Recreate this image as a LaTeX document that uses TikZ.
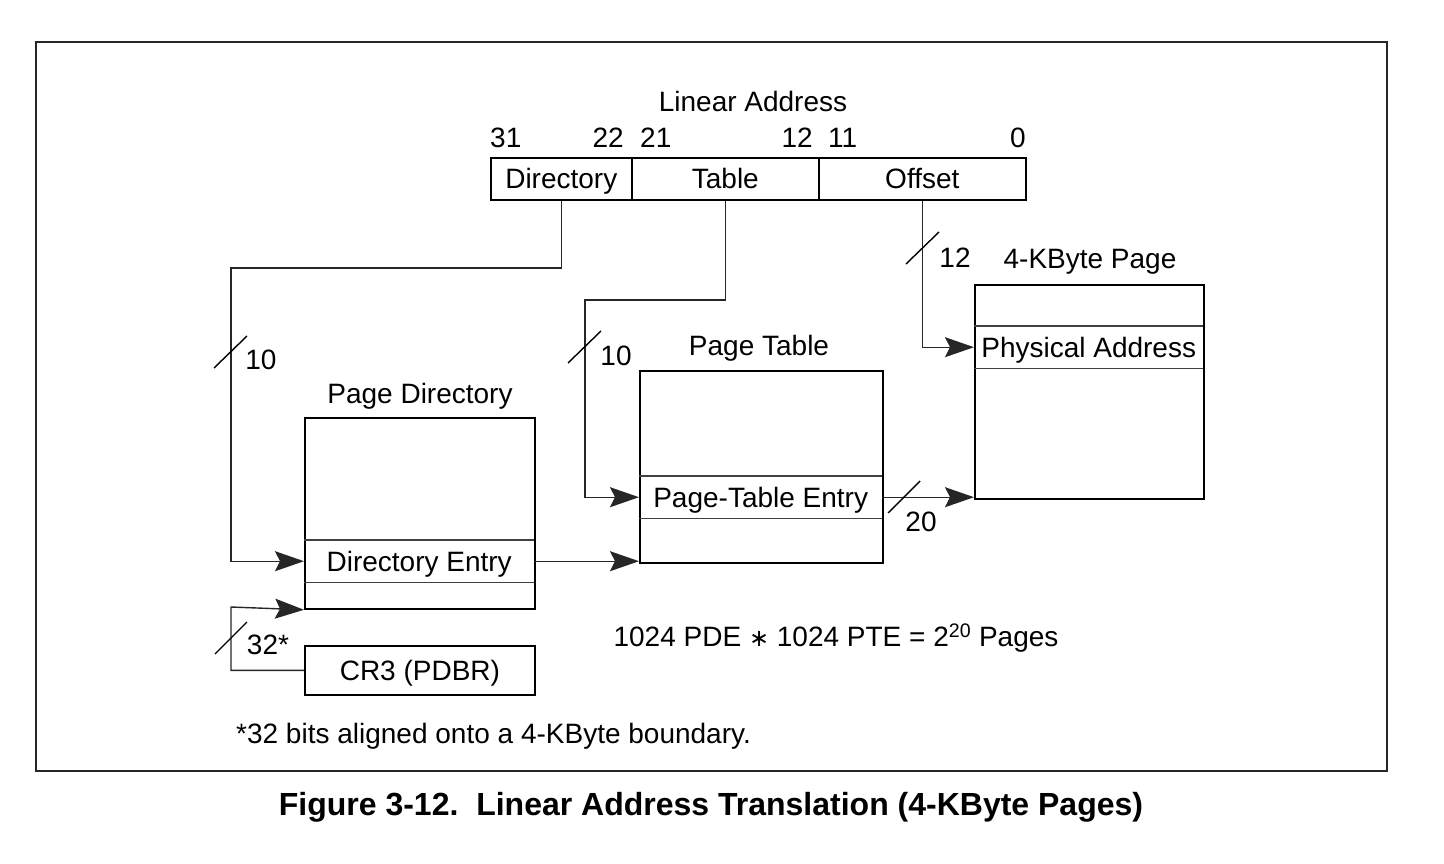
\documentclass[tikz,border=0pt]{standalone}
\usepackage{fontspec}
\setmainfont{Liberation Sans}
\newfontfamily\symfont{DejaVu Sans}
\usetikzlibrary{arrows.meta}

\begin{document}
\begin{tikzpicture}[x=1pt,y=-1pt,
  txt/.style={font=\fontsize{28}{32}\selectfont, inner sep=0pt},
  field/.style={draw, line width=1.6pt, inner sep=0pt, anchor=north west,
    font=\fontsize{28}{32}\selectfont, text height=20pt, text depth=0pt},
  table/.style={draw, line width=1.8pt, inner sep=0pt, anchor=north west},
  row/.style={inner sep=0pt, anchor=north west, minimum height=42pt,
    font=\fontsize{28}{32}\selectfont, text height=20pt, text depth=0pt},
  sep/.style={line width=1.1pt, draw=black!75},
  conn/.style={line width=1.4pt, draw=black!85},
  arr/.style={conn, -{Stealth[length=29pt, width=20pt, inset=5pt]}},
  slash/.style={line width=1.4pt}]

\useasboundingbox (0,0) rectangle (1444,864);

% outer frame
\draw[line width=2.4pt, draw=black!85] (36,42) rectangle (1387,771);

% linear address fields
\node[txt] (la) at (753,101) {Linear Address};
\node[field, minimum width=141pt, minimum height=42pt] (dir) at (490,157) {Directory};
\node[field, minimum width=187pt, minimum height=42pt] (tab) at (631,157) {Table};
\node[field, minimum width=207pt, minimum height=42pt] (off) at (818,157) {Offset};

% bit positions
\node[txt, anchor=west] (b31) at (490,138) {31};
\node[txt, anchor=east] (b22) at (624,138) {22};
\node[txt, anchor=west] (b21) at (640,138) {21};
\node[txt, anchor=east] (b12) at (813,138) {12};
\node[txt, anchor=west] (b11) at (828,138) {11};
\node[txt, anchor=east] (b0)  at (1026,138) {0};

% page directory
\node[txt] (pdt) at (420,396) {Page Directory};
\node[table, minimum width=230pt, minimum height=191pt] (pd) at (304,417) {};
\node[row, minimum width=230pt] (de) at (304,540) {Directory Entry};
\draw[sep] (de.north west) -- (de.north east);
\draw[sep] (de.south west) -- (de.south east);

% CR3
\node[table, minimum width=230pt, minimum height=49pt,
  font=\fontsize{28}{32}\selectfont, text height=20pt, text depth=0pt] (cr3) at (304,645) {CR3 (PDBR)};

% page table
\node[txt] (ptt) at (759,348) {Page Table};
\node[table, minimum width=243pt, minimum height=192pt] (pt) at (639,370) {};
\node[row, minimum width=243pt] (pte) at (639,476) {Page-Table Entry};
\draw[sep] (pte.north west) -- (pte.north east);
\draw[sep] (pte.south west) -- (pte.south east);

% 4-KByte page
\node[txt] (pgt) at (1090,262) {4-KByte Page};
\node[table, minimum width=229pt, minimum height=214pt] (pg) at (974,284) {};
\node[row, minimum width=229pt] (pa) at (974,326) {Physical Address};
\draw[sep] (pa.north west) -- (pa.north east);
\draw[sep] (pa.south west) -- (pa.south east);

% bends of the connectors
\coordinate (dbend) at (231,268);
\coordinate (tbend) at (585,300);
\coordinate (cbend) at (231,607);

% connectors
\draw[arr] (dir.south) |- (dbend) |- (de.west);
\draw[arr] (tab.south) |- (tbend) |- (pte.west);
\draw[arr] (off.south) |- (pa.west);
\draw[arr] (cr3.west) -| (cbend) -- (pd.south west);
\draw[arr] (de.east) -- (de.east -| pt.west);
\draw[arr] (pte.east) -- (pte.east -| pg.west);

% bus-width marks
\draw[slash] (214,368) -- ++(33,-32);
\node[txt] (w10a) at (261,360) {10};
\draw[slash] (568,363) -- ++(33,-32);
\node[txt] (w10b) at (616,356) {10};
\draw[slash] (906,264) -- ++(33,-32);
\node[txt] (w12) at (955,258) {12};
\draw[slash] (888,513) -- ++(32,-32);
\node[txt] (w20) at (921,522) {20};
\draw[slash] (215,654) -- ++(32,-32);
\node[txt] (w32) at (268,645) {32*};

% notes
\node[txt] (eq) at (836,638) {1024 PDE {\symfont\fontsize{24}{28}\selectfont ∗} 1024 PTE = 2\textsuperscript{20} Pages};
\node[txt, anchor=west] (fn) at (236,736) {*32 bits aligned onto a 4-KByte boundary.};
\node[inner sep=0pt, font=\fontsize{32}{36}\selectfont\bfseries] (cap) at (711,807)
  {Figure 3-12.\ \ Linear Address Translation (4-KByte Pages)};
\end{tikzpicture}
\end{document}
